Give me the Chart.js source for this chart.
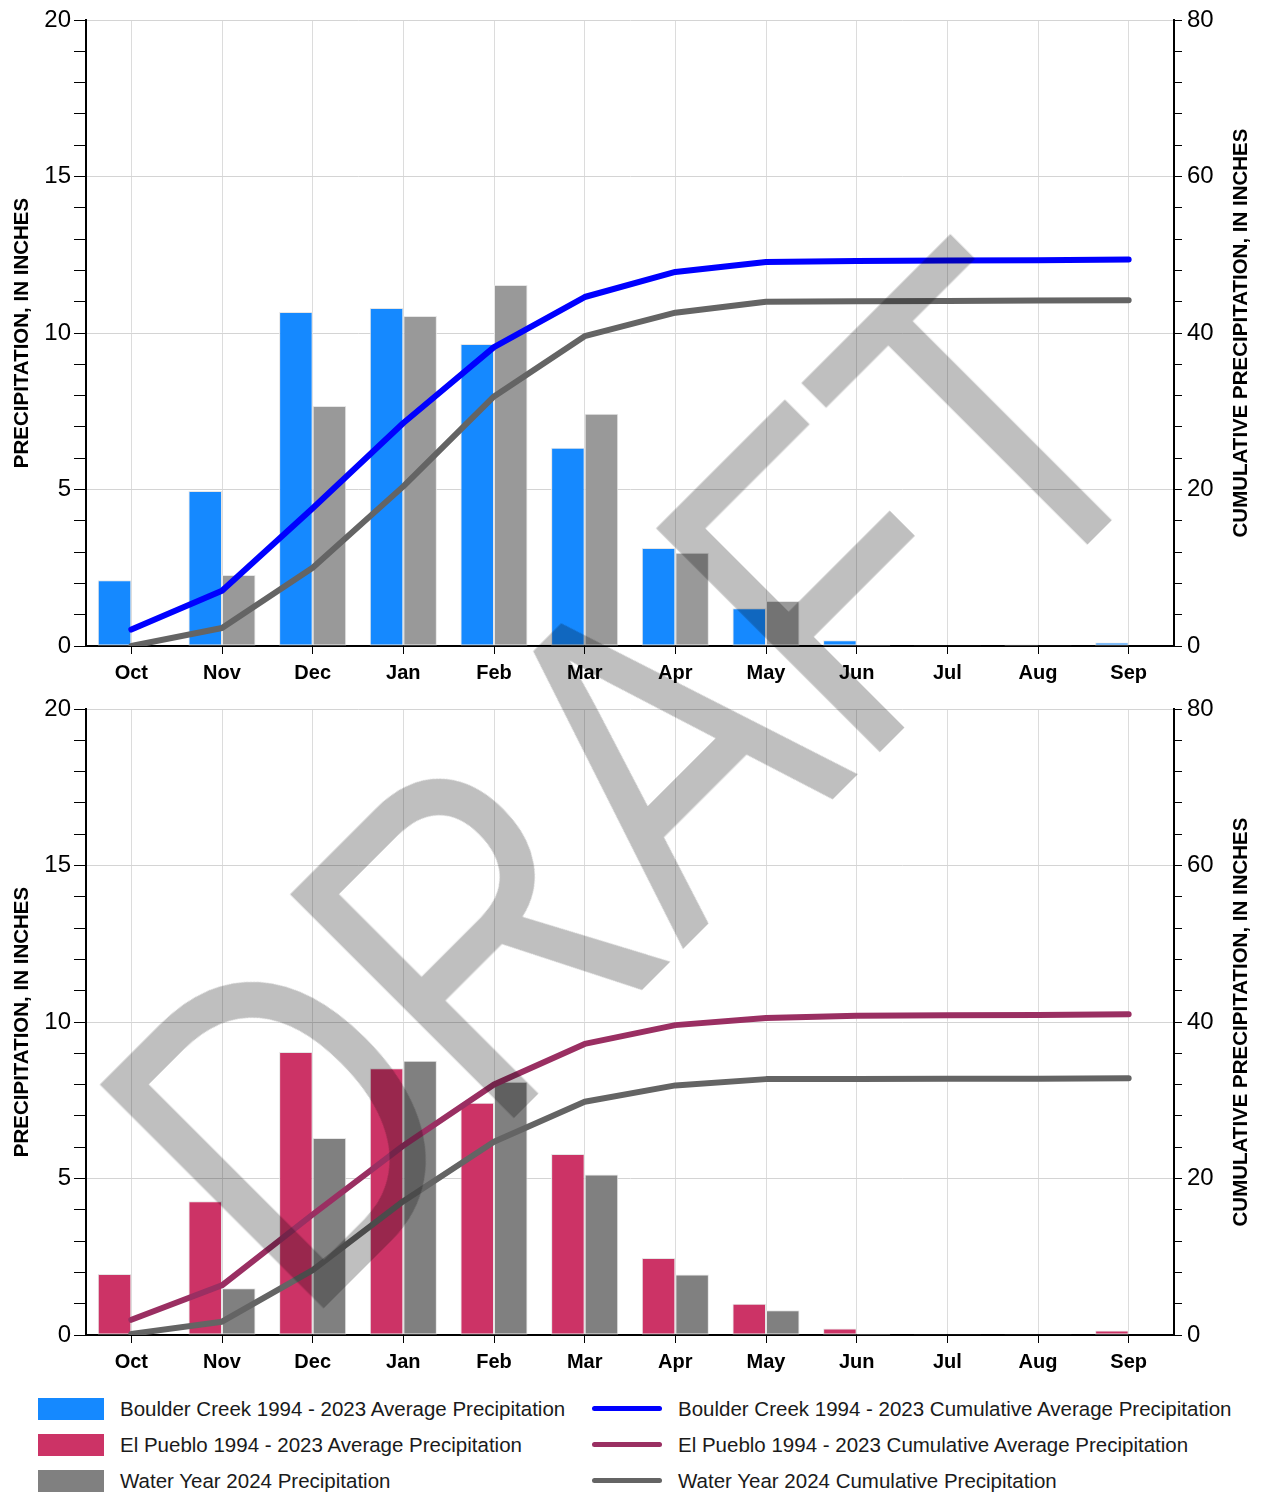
<!DOCTYPE html>
<html>
<head>
<meta charset="utf-8">
<script src="https://cdn.jsdelivr.net/npm/chart.js@4.4.1/dist/chart.umd.min.js"></script>
<style>
body{margin:0;background:#fff;}
#page{position:relative;width:1261px;height:1497px;overflow:hidden;font-family:'Liberation Sans',Arial,sans-serif;}
.cw{position:absolute;left:0;width:1261px;height:689px;}
#draft{position:absolute;left:302px;top:941px;font:460px/1 'Liberation Sans',Arial,sans-serif;color:rgba(0,0,0,0.25);white-space:nowrap;transform-origin:0 389px;transform:rotate(-45deg) scaleX(0.81);pointer-events:none;z-index:5;}
.rtitle{position:absolute;left:1240px;font:bold 20.5px 'Liberation Sans',Arial,sans-serif;color:#000;white-space:nowrap;transform:translate(-50%,-50%) rotate(-90deg);}
.row{position:absolute;height:36px;line-height:36px;font-size:20.5px;color:#1a1a1a;white-space:nowrap;}
.box{position:absolute;left:38px;width:66px;height:22px;}
.ln{position:absolute;left:592px;width:70px;height:5px;border-radius:3px;}
</style>
</head>
<body>
<div id="page">
  <div class="cw" style="top:0"><canvas id="c1"></canvas></div>
  <div class="cw" style="top:689px"><canvas id="c2"></canvas></div>
  <div class="rtitle" style="top:333px">CUMULATIVE PRECIPITATION, IN INCHES</div>
  <div class="rtitle" style="top:1022px">CUMULATIVE PRECIPITATION, IN INCHES</div>

  <div class="box" style="top:1398px;background:#1589ff"></div>
  <div class="row" style="left:120px;top:1391px">Boulder Creek 1994 - 2023 Average Precipitation</div>
  <div class="box" style="top:1434px;background:#cc3366"></div>
  <div class="row" style="left:120px;top:1427px">El Pueblo 1994 - 2023 Average Precipitation</div>
  <div class="box" style="top:1470px;background:#808080"></div>
  <div class="row" style="left:120px;top:1463px">Water Year 2024 Precipitation</div>

  <div class="ln" style="top:1406px;background:#0000ff"></div>
  <div class="row" style="left:678px;top:1391px">Boulder Creek 1994 - 2023 Cumulative Average Precipitation</div>
  <div class="ln" style="top:1442px;background:#9a2f62"></div>
  <div class="row" style="left:678px;top:1427px">El Pueblo 1994 - 2023 Cumulative Average Precipitation</div>
  <div class="ln" style="top:1478px;background:#646464"></div>
  <div class="row" style="left:678px;top:1463px">Water Year 2024 Cumulative Precipitation</div>

  <div id="draft">DRAFT</div>
</div>
<script>
const months=['Oct','Nov','Dec','Jan','Feb','Mar','Apr','May','Jun','Jul','Aug','Sep'];

// Boulder Creek panel
const boulderAvg=[2.1,4.95,10.67,10.8,9.65,6.33,3.13,1.21,0.18,0.02,0.05,0.11];
const boulderWy=[0,2.27,7.67,10.54,11.53,7.42,2.98,1.44,0.03,0.02,0.02,0];
const boulderAvgCum=[2.1,7.05,17.6,28.5,38.2,44.6,47.8,49.06,49.2,49.25,49.3,49.4];
const boulderWyCum=[0,2.3,10.0,20.4,31.9,39.6,42.6,44.0,44.05,44.1,44.15,44.2];

// El Pueblo panel
const puebloAvg=[1.95,4.27,9.04,8.52,7.42,5.78,2.46,1.0,0.21,0.01,0.02,0.14];
const puebloWy=[0,1.49,6.29,8.76,8.09,5.13,1.93,0.79,0.03,0.02,0.02,0];
const puebloAvgCum=[1.94,6.35,15.4,24.2,32.0,37.2,39.6,40.5,40.8,40.85,40.9,41.0];
const puebloWyCum=[0.14,1.7,8.3,17.1,24.7,29.8,31.9,32.7,32.7,32.75,32.75,32.8];

const leftTicksMajor=5, rightTicksMajor=20;
const font="'Liberation Sans',Arial,sans-serif";

function panel(id,avg,avgColor,wy,wyColor,avgCum,avgCumColor,wyCum){
    new Chart(document.getElementById(id),{
        data:{labels:months,datasets:[
            {type:'line',data:avgCum,yAxisID:'y1',borderColor:avgCumColor,borderWidth:6,pointRadius:0,order:0,borderCapStyle:'round',borderJoinStyle:'round'},
            {type:'line',data:wyCum,yAxisID:'y1',borderColor:'#646464',borderWidth:6,pointRadius:0,order:0,borderCapStyle:'round',borderJoinStyle:'round'},
            {type:'bar',data:avg,yAxisID:'y',backgroundColor:avgColor,borderColor:'#e6e6e6',borderWidth:1,borderSkipped:false,categoryPercentage:0.74,barPercentage:1,order:1},
            {type:'bar',data:wy,yAxisID:'y',backgroundColor:wyColor,borderColor:'#e6e6e6',borderWidth:1,borderSkipped:false,categoryPercentage:0.74,barPercentage:1,order:1}
        ]},
        options:{
            responsive:false,animation:false,
            layout:{padding:{top:20,left:0,right:0,bottom:0}},
            plugins:{legend:{display:false},tooltip:{enabled:false}},
            scales:{
                x:{
                    grid:{color:'#dcdcdc',offset:false,tickColor:'#000',tickLength:8},
                    border:{color:'#000',width:2},
                    ticks:{color:'#000',padding:7,font:{family:font,weight:'bold',size:20}},
                    afterFit:s=>{s.height=43;}
                },
                y:{
                    position:'left',min:0,max:20,
                    ticks:{stepSize:1,autoSkip:false,color:'#000',padding:3,font:{family:font,size:24},
                        callback:v=>v%leftTicksMajor===0?v:''},
                    grid:{color:c=>c.tick.value%leftTicksMajor===0?'#d4d4d4':'rgba(0,0,0,0)',tickColor:'#000',tickLength:12},
                    border:{color:'#000',width:2},
                    title:{display:true,text:'PRECIPITATION, IN INCHES',color:'#000',padding:{top:10,bottom:0},font:{family:font,weight:'bold',size:20.5}},
                    afterFit:s=>{s.width=86;}
                },
                y1:{
                    position:'right',min:0,max:80,
                    ticks:{stepSize:4,autoSkip:false,color:'#000',padding:5,font:{family:font,size:24},
                        callback:v=>v%rightTicksMajor===0?v:''},
                    grid:{drawOnChartArea:false,tickColor:'#000',tickLength:8},
                    border:{color:'#000',width:2},
                    afterFit:s=>{s.width=87;}
                }
            }
        }
    });
}

const c1=document.getElementById('c1'); c1.width=1261; c1.height=689;
const c2=document.getElementById('c2'); c2.width=1261; c2.height=689;
panel('c1',boulderAvg,'#1589ff',boulderWy,'#999999',boulderAvgCum,'#0000ff',boulderWyCum);
panel('c2',puebloAvg,'#cc3366',puebloWy,'#808080',puebloAvgCum,'#9a2f62',puebloWyCum);
</script>
</body>
</html>
